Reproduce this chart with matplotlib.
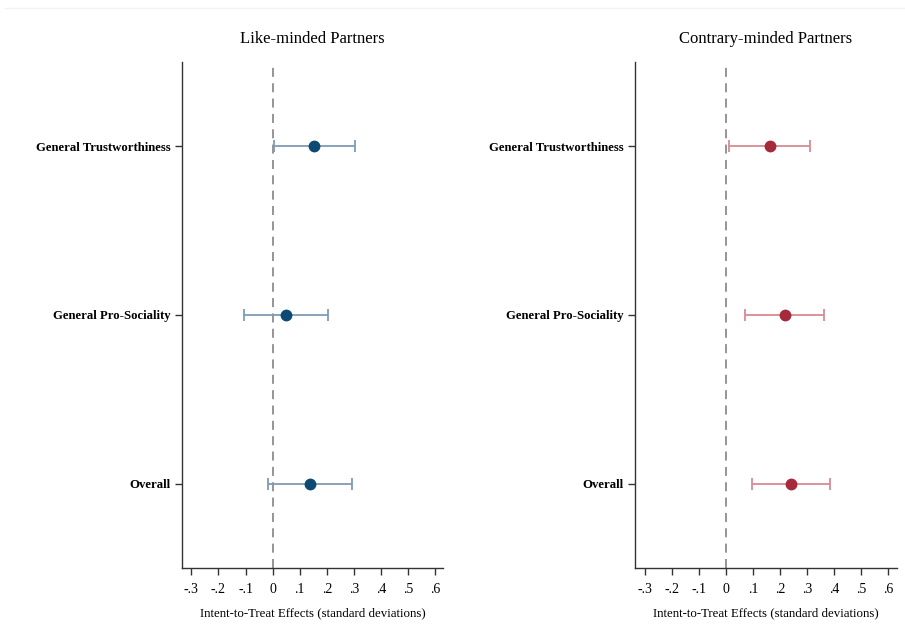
import matplotlib
matplotlib.use("Agg")
import matplotlib.pyplot as plt
from matplotlib.lines import Line2D

plt.rcParams['font.family'] = ['Liberation Serif', 'DejaVu Serif']

categories = ["General Trustworthiness", "General Pro-Sociality", "Overall"]
panel_titles = ["Like-minded Partners", "Contrary-minded Partners"]

like_est = [0.154, 0.049, 0.139]
like_lo = [0.005, -0.105, -0.018]
like_hi = [0.303, 0.203, 0.293]

contrary_est = [0.162, 0.217, 0.239]
contrary_lo = [0.011, 0.070, 0.095]
contrary_hi = [0.312, 0.361, 0.383]

xticks = [-0.3, -0.2, -0.1, 0, 0.1, 0.2, 0.3, 0.4, 0.5, 0.6]
xtick_labels = ["-.3", "-.2", "-.1", "0", ".1", ".2", ".3", ".4", ".5", ".6"]
xlabel = "Intent-to-Treat Effects (standard deviations)"

fig = plt.figure(figsize=(9.05, 6.36), dpi=100)
fig.add_artist(Line2D([0.005, 1.0], [0.987, 0.987], color="#f2f2f2", lw=1))

panels = [
    ([0.201, 0.107, 0.289, 0.7955], like_est, like_lo, like_hi, "#0d4a73", "#7f9bb8"),
    ([0.7017, 0.107, 0.289, 0.7955], contrary_est, contrary_lo, contrary_hi, "#a52a3a", "#d98a92"),
]

ypos = [3, 2, 1]
for (rect, est, lo, hi, pc, lc), title in zip(panels, panel_titles):
    ax = fig.add_axes(rect)
    ax.set_xlim(-0.335, 0.63)
    ax.set_ylim(0.5, 3.5)
    ax.axvline(0, color="#8c8c8c", lw=1.3, ls=(0, (5, 3.5)), zorder=1)
    for y, e, l, h in zip(ypos, est, lo, hi):
        ax.errorbar([e], [y], xerr=[[e - l], [h - e]], fmt="none", ecolor=lc,
                    elinewidth=1.3, capsize=4, capthick=1.3, zorder=2)
        ax.plot([e], [y], "o", color=pc, ms=7.5, zorder=3)
    ax.set_yticks(ypos)
    ax.set_yticklabels(categories, fontsize=9.2, fontweight="bold")
    ax.set_xticks(xticks)
    ax.set_xticklabels(xtick_labels, fontsize=10)
    ax.tick_params(axis="both", direction="out", length=5, width=1, color="#333333")
    ax.tick_params(axis="x", pad=6)
    ax.tick_params(axis="y", pad=3)
    for s in ("top", "right"):
        ax.spines[s].set_visible(False)
    for s in ("left", "bottom"):
        ax.spines[s].set_color("#333333")
        ax.spines[s].set_linewidth(1)
    ax.set_xlabel(xlabel, fontsize=9.3, labelpad=8)
    ax.set_title(title, fontsize=12, pad=14)

fig.savefig("out.png", dpi=100, facecolor="white")
